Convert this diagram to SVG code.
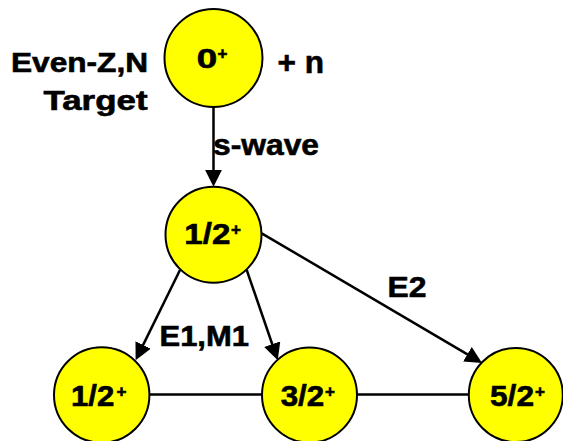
<svg xmlns="http://www.w3.org/2000/svg" width="563" height="441" viewBox="0 0 563 441">
  <style>
    .node { fill: #FFFF00; stroke: #000; stroke-width: 2; }
    .lbl { font-family: "Liberation Sans", Arial, sans-serif; font-weight: bold; fill: #000; stroke: #000; stroke-width: 0.6; }
    .sup { font-family: "Liberation Sans", Arial, sans-serif; font-weight: bold; fill: #000; stroke: #000; stroke-width: 0.6; font-size: 17px; }
    .edge { stroke: #000; stroke-width: 2.5; fill: none; }
  </style>
  <defs>
    <marker id="arrow" markerUnits="userSpaceOnUse" markerWidth="18" markerHeight="18" refX="3" refY="8.5" orient="auto">
      <path d="M0,0 L17,8.5 L0,17 Z" fill="#000"/>
    </marker>
  </defs>

  <rect width="563" height="441" fill="#fff"/>

  <!-- free-standing labels -->
  <g id="labels">
    <text class="lbl" x="11" y="72.3" font-size="27" textLength="137" lengthAdjust="spacingAndGlyphs">Even-Z,N</text>
    <text class="lbl" x="43.5" y="110" font-size="27" textLength="104" lengthAdjust="spacingAndGlyphs">Target</text>
    <text class="lbl" x="277.5" y="73.3" font-size="31" textLength="46.5" lengthAdjust="spacingAndGlyphs">+ n</text>
    <text class="lbl" x="213" y="155" font-size="30" textLength="106" lengthAdjust="spacingAndGlyphs">s-wave</text>
    <text class="lbl" x="387.5" y="296.7" font-size="29" textLength="39" lengthAdjust="spacingAndGlyphs">E2</text>
    <text class="lbl" x="159.5" y="346" font-size="29" textLength="89.5" lengthAdjust="spacingAndGlyphs">E1,M1</text>
  </g>

  <g id="target">
    <circle class="node" cx="213.5" cy="58" r="49"/>
    <text class="lbl" font-size="27" transform="translate(196.8,67.7) scale(1.36,1)">0</text>
    <text class="sup" x="217.6" y="59.4">+</text>
  </g>

  <g id="capture">
    <circle class="node" cx="213.5" cy="234.7" r="48"/>
    <text class="lbl" x="184.3" y="244.3" font-size="29" textLength="46" lengthAdjust="spacingAndGlyphs">1/2</text>
    <text class="sup" x="231" y="234.8">+</text>
  </g>

  <g id="final-half">
    <circle class="node" cx="101.7" cy="395" r="47.7"/>
    <text class="lbl" x="71" y="406" font-size="29" textLength="43.3" lengthAdjust="spacingAndGlyphs">1/2</text>
    <text class="sup" x="116.6" y="397.3">+</text>
  </g>

  <g id="final-three-half">
    <circle class="node" cx="309.5" cy="395" r="47.5"/>
    <text class="lbl" x="280.7" y="405.5" font-size="29" textLength="43.6" lengthAdjust="spacingAndGlyphs">3/2</text>
    <text class="sup" x="325" y="397.3">+</text>
  </g>

  <g id="final-five-half">
    <circle class="node" cx="515.8" cy="395" r="47"/>
    <text class="lbl" x="490" y="405.5" font-size="29" textLength="44" lengthAdjust="spacingAndGlyphs">5/2</text>
    <text class="sup" x="535" y="397.3">+</text>
  </g>

  <!-- transitions -->
  <g id="connectors">
    <line class="edge" x1="213.5" y1="107" x2="213.5" y2="172.7" marker-end="url(#arrow)"/>
    <line class="edge" x1="180" y1="270" x2="141.8" y2="347.6" marker-end="url(#arrow)"/>
    <line class="edge" x1="246.7" y1="270" x2="273.2" y2="347" marker-end="url(#arrow)"/>
    <line class="edge" x1="261.7" y1="233.3" x2="470" y2="355.8" marker-end="url(#arrow)"/>
    <line class="edge" x1="149.4" y1="394.5" x2="262" y2="394.5"/>
    <line class="edge" x1="357" y1="394.5" x2="468.8" y2="394.5"/>
  </g>
</svg>
